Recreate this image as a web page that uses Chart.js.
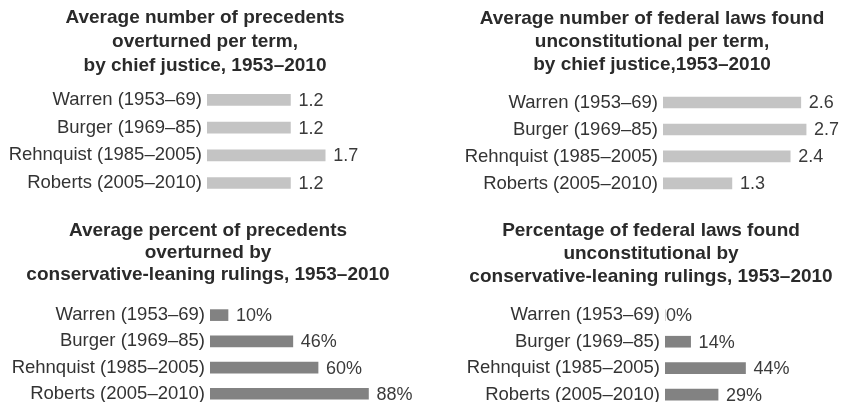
<!DOCTYPE html>
<html>
<head>
<meta charset="utf-8">
<script src="https://cdn.jsdelivr.net/npm/chart.js@4"></script>
<style>
  body { margin: 0; background: #fff; overflow: hidden; width: 845px; height: 402px; position: relative; }
  .panel { position: absolute; }
</style>
</head>
<body>
<div class="panel" id="p1"><canvas id="c1"></canvas></div>
<div class="panel" id="p2"><canvas id="c2"></canvas></div>
<div class="panel" id="p3"><canvas id="c3"></canvas></div>
<div class="panel" id="p4"><canvas id="c4"></canvas></div>
<script>
// data
const justices = ['Warren (1953–69)', 'Burger (1969–85)', 'Rehnquist (1985–2005)', 'Roberts (2005–2010)'];
const precedentsPerTerm = [1.2, 1.2, 1.7, 1.2];
const lawsPerTerm = [2.6, 2.7, 2.4, 1.3];
const precedentsConservativePct = [10, 46, 60, 88];
const lawsConservativePct = [0, 14, 44, 29];

const titles = [
    ['Average number of precedents', 'overturned per term,', 'by chief justice, 1953–2010'],
    ['Average number of federal laws found', 'unconstitutional per term,', 'by chief justice,1953–2010'],
    ['Average percent of precedents', 'overturned by', 'conservative-leaning rulings, 1953–2010'],
    ['Percentage of federal laws found', 'unconstitutional by', 'conservative-leaning rulings, 1953–2010']
];

Chart.defaults.font.family = "'Liberation Sans', Arial, Helvetica, sans-serif";
Chart.defaults.color = '#333';

// writes the value just past the end of each bar
const valueLabels = {
    id: 'valueLabels',
    afterDatasetsDraw(chart, args, opts) {
        const ctx = chart.ctx;
        const ds = chart.data.datasets[0];
        chart.getDatasetMeta(0).data.forEach((bar, i) => {
            const v = ds.data[i];
            const gap = v > 0 ? 8 : 1;
            ctx.save();
            ctx.font = "18px 'Liberation Sans', Arial, sans-serif";
            ctx.fillStyle = '#3a3a3a';
            ctx.textBaseline = 'middle';
            ctx.textAlign = 'left';
            ctx.fillText(opts.fmt(v), bar.x + gap, bar.y + 1);
            ctx.restore();
        });
    }
};

// the canvas may run past the page edge on the right; that keeps the
// title centred where the original has it
function makeChart(cfg) {
    const box = document.getElementById(cfg.box);
    box.style.left = cfg.left + 'px';
    box.style.top = cfg.top + 'px';
    box.style.width = cfg.width + 'px';
    box.style.height = cfg.height + 'px';

    new Chart(document.getElementById(cfg.canvas), {
        type: 'bar',
        data: {
            labels: justices,
            datasets: [{
                data: cfg.values,
                backgroundColor: cfg.color,
                barThickness: 11
            }]
        },
        options: {
            indexAxis: 'y',
            responsive: true,
            maintainAspectRatio: false,
            animation: false,
            layout: { padding: 0 },
            plugins: {
                legend: { display: false },
                tooltip: { enabled: false },
                title: {
                    display: true,
                    text: cfg.title,
                    color: '#2a2a2a',
                    font: { size: 19, weight: 'bold', lineHeight: cfg.titleLH / 19 },
                    padding: { top: cfg.titleTop, bottom: cfg.titleBottom }
                },
                valueLabels: { fmt: cfg.fmt }
            },
            scales: {
                x: { display: false, min: 0, max: cfg.xMax },
                y: {
                    grid: { display: false, drawTicks: false },
                    border: { display: false },
                    ticks: { padding: 5, color: '#333', font: { size: 18.5 } },
                    afterFit(scale) { scale.width = cfg.axisW; }
                }
            }
        },
        plugins: [valueLabels]
    });
}

const oneDecimal = v => v.toFixed(1);
const percent = v => v + '%';

makeChart({ box: 'p1', canvas: 'c1', left: 0, top: 0, width: 410, height: 213,
    values: precedentsPerTerm, color: '#c4c4c4', title: titles[0], fmt: oneDecimal,
    xMax: 2.92, axisW: 207, titleLH: 24, titleTop: 6, titleBottom: 8 });

makeChart({ box: 'p2', canvas: 'c2', left: 420, top: 0, width: 464, height: 213,
    values: lawsPerTerm, color: '#c4c4c4', title: titles[1], fmt: oneDecimal,
    xMax: 4.17, axisW: 243, titleLH: 23, titleTop: 7, titleBottom: 13 });

makeChart({ box: 'p3', canvas: 'c3', left: 0, top: 200, width: 416, height: 223,
    values: precedentsConservativePct, color: '#828282', title: titles[2], fmt: percent,
    xMax: 114.4, axisW: 210, titleLH: 22, titleTop: 20, titleBottom: 16 });

makeChart({ box: 'p4', canvas: 'c4', left: 420, top: 200, width: 462, height: 224,
    values: lawsConservativePct, color: '#828282', title: titles[3], fmt: percent,
    xMax: 118.6, axisW: 245, titleLH: 23, titleTop: 19, titleBottom: 14 });
</script>
</body>
</html>
